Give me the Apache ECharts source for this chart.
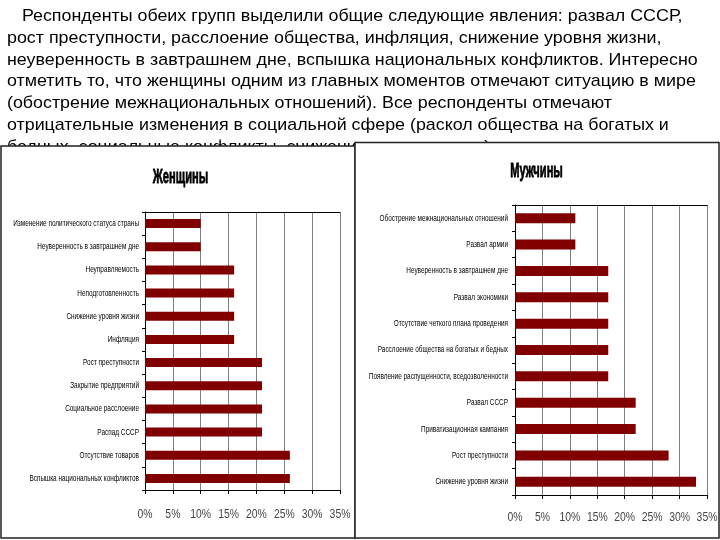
<!DOCTYPE html>
<html><head><meta charset="utf-8">
<script src="https://cdn.jsdelivr.net/npm/echarts@6/dist/echarts.min.js"></script>
<style>html,body{margin:0;padding:0;background:#fff}#c{width:720px;height:540px}</style>
</head><body><div id="c"></div>
<script>
const paragraphLines = [
  '   Респонденты обеих групп выделили общие следующие явления: развал СССР,',
  'рост преступности, расслоение общества, инфляция, снижение уровня жизни,',
  'неуверенность в завтрашнем дне, вспышка национальных конфликтов. Интересно',
  'отметить то, что женщины одним из главных моментов отмечают ситуацию в мире',
  '(обострение межнациональных отношений). Все респонденты отмечают',
  'отрицательные изменения в социальной сфере (раскол общества на богатых и',
  'бедных, социальные конфликты, снижение уровня жизни).'
];
const womenTitle = 'Женщины';
const womenCategories = [
  'Изменение политического статуса страны',
  'Неуверенность в завтрашнем дне',
  'Неуправляемость',
  'Неподготовленность',
  'Снижение уровня жизни',
  'Инфляция',
  'Рост преступности',
  'Закрытие предприятий',
  'Социальное расслоение',
  'Распад СССР',
  'Отсутствие товаров',
  'Вспышка национальных конфликтов'
];
const womenValues = [10, 10, 16, 16, 16, 16, 21, 21, 21, 21, 26, 26];
const menTitle = 'Мужчины';
const menCategories = [
  'Обострение межнациональных отношений',
  'Развал армии',
  'Неуверенность в завтрашнем дне',
  'Развал экономики',
  'Отсутствие четкого плана проведения',
  'Расслоение общества на богатых и бедных',
  'Появление распущенности, вседозволенности',
  'Развал СССР',
  'Приватизационная кампания',
  'Рост преступности',
  'Снижение уровня жизни'
];
const menValues = [11, 11, 17, 17, 17, 17, 17, 22, 22, 28, 33];
const xTicks = [0, 5, 10, 15, 20, 25, 30, 35];

const sans = '"Liberation Sans", Arial, sans-serif';
const chart = echarts.init(document.getElementById('c'), null, {renderer: 'canvas'});

const graphics = [];
paragraphLines.forEach((t, i) => {
  graphics.push({
    type: 'text', x: 7, y: 16.7 + 21.7 * i, z: 0, scaleX: 1.05,
    style: {text: t, fill: '#000', font: '17px ' + sans, verticalAlign: 'middle', align: 'left'}
  });
});
graphics.push({type: 'rect', z: 1, shape: {x: 1, y: 146, width: 354, height: 392},
  style: {fill: '#fff', stroke: '#222', lineWidth: 1.5}});
graphics.push({type: 'rect', z: 1, shape: {x: 355, y: 142.5, width: 364, height: 395.5},
  style: {fill: '#fff', stroke: '#222', lineWidth: 1.5}});
graphics.push({type: 'text', x: 180.5, y: 177, z: 5, scaleX: 0.53,
  style: {text: womenTitle, fill: '#000', stroke: '#000', lineWidth: 0.8, font: 'bold 21px ' + sans, align: 'center', verticalAlign: 'middle'}});
graphics.push({type: 'text', x: 536.5, y: 171.5, z: 5, scaleX: 0.53,
  style: {text: menTitle, fill: '#000', stroke: '#000', lineWidth: 0.8, font: 'bold 21px ' + sans, align: 'center', verticalAlign: 'middle'}});

function xAxisMain(gi) {
  return {
    type: 'value', gridIndex: gi, min: 0, max: 35, interval: 5, z: 3,
    axisLine: {show: true, lineStyle: {color: '#000', width: 1}},
    axisTick: {show: true, length: 4, lineStyle: {color: '#000'}},
    splitLine: {show: true, lineStyle: {color: '#808080', width: 1}},
    axisLabel: {show: false}
  };
}
function xAxisTop(gi) {
  return {
    type: 'value', gridIndex: gi, position: 'top', min: 0, max: 35, interval: 5, z: 3,
    axisLine: {show: true, lineStyle: {color: '#000', width: 1}},
    axisTick: {show: false}, axisLabel: {show: false}, splitLine: {show: false}
  };
}
function yAxis(gi, cats) {
  return {
    type: 'category', gridIndex: gi, data: cats, inverse: true, z: 3,
    axisLine: {show: true, lineStyle: {color: '#000', width: 1}},
    axisTick: {show: true, length: 3, lineStyle: {color: '#000'}},
    axisLabel: {show: false}
  };
}
function catLabelSeries(xi, yi, cats, gap) {
  return {
    type: 'custom', xAxisIndex: xi, yAxisIndex: yi, z: 5, silent: true, clip: false,
    data: cats.map((c, i) => [0, i]),
    renderItem: function (params, api) {
      const idx = api.value(1);
      const p = api.coord([0, idx]);
      return {type: 'text', x: p[0] - gap, y: p[1], scaleX: 0.73,
        style: {text: cats[idx], fill: '#000', font: '8.8px ' + sans, align: 'right', verticalAlign: 'middle'}};
    }
  };
}
function tickLabelSeries(xi, yi, off) {
  return {
    type: 'custom', xAxisIndex: xi, yAxisIndex: yi, z: 5, silent: true, clip: false,
    data: xTicks.map(v => [v, 0]),
    renderItem: function (params, api) {
      const v = api.value(0);
      const p = api.coord([v, 0]);
      const cs = params.coordSys;
      return {type: 'text', x: p[0], y: cs.y + cs.height + off, scaleX: 0.77,
        style: {text: v + '%', fill: '#444', font: '13.5px ' + sans, align: 'center', verticalAlign: 'middle'}};
    }
  };
}

chart.setOption({
  animation: false,
  backgroundColor: '#fff',
  graphic: graphics,
  grid: [
    {left: 145, right: 380, top: 212, bottom: 50, containLabel: false, outerBoundsMode: 'none'},
    {left: 515, right: 13, top: 205, bottom: 45, containLabel: false, outerBoundsMode: 'none'}
  ],
  xAxis: [xAxisMain(0), xAxisTop(0), xAxisMain(1), xAxisTop(1)],
  yAxis: [yAxis(0, womenCategories), yAxis(1, menCategories)],
  series: [
    {type: 'bar', xAxisIndex: 0, yAxisIndex: 0, data: womenValues, barWidth: 9, z: 4,
      itemStyle: {color: '#800000'}},
    {type: 'bar', xAxisIndex: 2, yAxisIndex: 1, data: menValues, barWidth: 10, z: 4,
      itemStyle: {color: '#800000'}},
    catLabelSeries(0, 0, womenCategories, 6),
    catLabelSeries(2, 1, menCategories, 7),
    tickLabelSeries(0, 0, 24),
    tickLabelSeries(2, 1, 22)
  ]
});
</script></body></html>
